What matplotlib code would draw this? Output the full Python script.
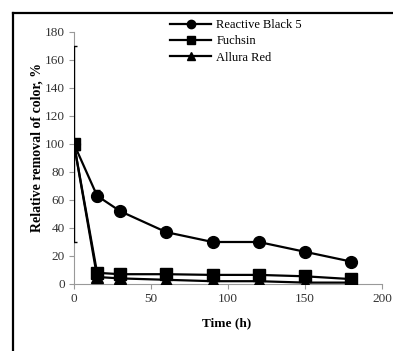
import numpy as np
import matplotlib.pyplot as plt
from matplotlib.lines import Line2D

# data
time_h = [0, 15, 30, 60, 90, 120, 150, 180]
reactive_black = [100, 63, 52, 37, 30, 30, 23, 16]
reactive_black_err = [70, 4, 0, 0, 0, 0, 0, 0]
fuchsin = [100, 8, 7, 7, 6.5, 6.5, 5.5, 3.5]
allura_red = [100, 5, 4, 3, 2, 2, 1, 1]

x_ticks = [0, 50, 100, 150, 200]
y_ticks = [0, 20, 40, 60, 80, 100, 120, 140, 160, 180]

plt.rcParams['font.family'] = ['Liberation Serif', 'DejaVu Serif']

fig = plt.figure(figsize=(3.93, 3.51), dpi=100)
ax = fig.add_axes([74/393, 1 - 284/351, 308/393, 252/351])

ax.plot(time_h, allura_red, color='black', lw=1.6, marker='^', ms=8,
        label='Allura Red', zorder=3)
ax.plot(time_h, fuchsin, color='black', lw=1.6, marker='s', ms=8.5,
        label='Fuchsin', zorder=4)
ax.errorbar(time_h, reactive_black, yerr=reactive_black_err, color='black',
            lw=1.6, marker='o', ms=8.5, elinewidth=1, capsize=2.5,
            label='Reactive Black 5', zorder=5)

ax.set_xlim(0, 200)
ax.set_ylim(0, 180)
ax.set_xticks(x_ticks)
ax.set_yticks(y_ticks)
for s in ['top', 'right']:
    ax.spines[s].set_visible(False)
for s in ['left', 'bottom']:
    ax.spines[s].set_color('#999999')
    ax.spines[s].set_linewidth(0.8)
ax.tick_params(direction='out', length=3.5, width=0.8, color='#999999',
               labelsize=9.5, labelcolor='#333333', pad=3)
ax.set_xlabel('Time (h)', fontsize=9.5, fontweight='bold')
ax.set_ylabel('Relative removal of color, %', fontsize=10, fontweight='bold')
ax.xaxis.set_label_coords((227 - 74) / 308, -(317 - 284) / 252)
ax.yaxis.set_label_coords(-(74 - 44) / 308, (284 - 148) / 252)

handles = [
    Line2D([], [], color='black', lw=1.6, marker='o', ms=6),
    Line2D([], [], color='black', lw=1.6, marker='s', ms=6),
    Line2D([], [], color='black', lw=1.6, marker='^', ms=6),
]
fig.legend(handles, ['Reactive Black 5', 'Fuchsin', 'Allura Red'],
           loc='upper left', bbox_to_anchor=(170/393, 1 - 19/351),
           frameon=False, fontsize=9, handlelength=3.3, handletextpad=0.4,
           labelspacing=0.35, borderpad=0, borderaxespad=0)

# outer frame (only left and top edges are visible)
fig.add_artist(Line2D([13/393, 13/393], [0, 1 - 13/351], color='black',
                      lw=1.6, transform=fig.transFigure))
fig.add_artist(Line2D([13/393, 1], [1 - 13/351, 1 - 13/351], color='black',
                      lw=1.6, transform=fig.transFigure))

fig.savefig('out.png', dpi=100)
